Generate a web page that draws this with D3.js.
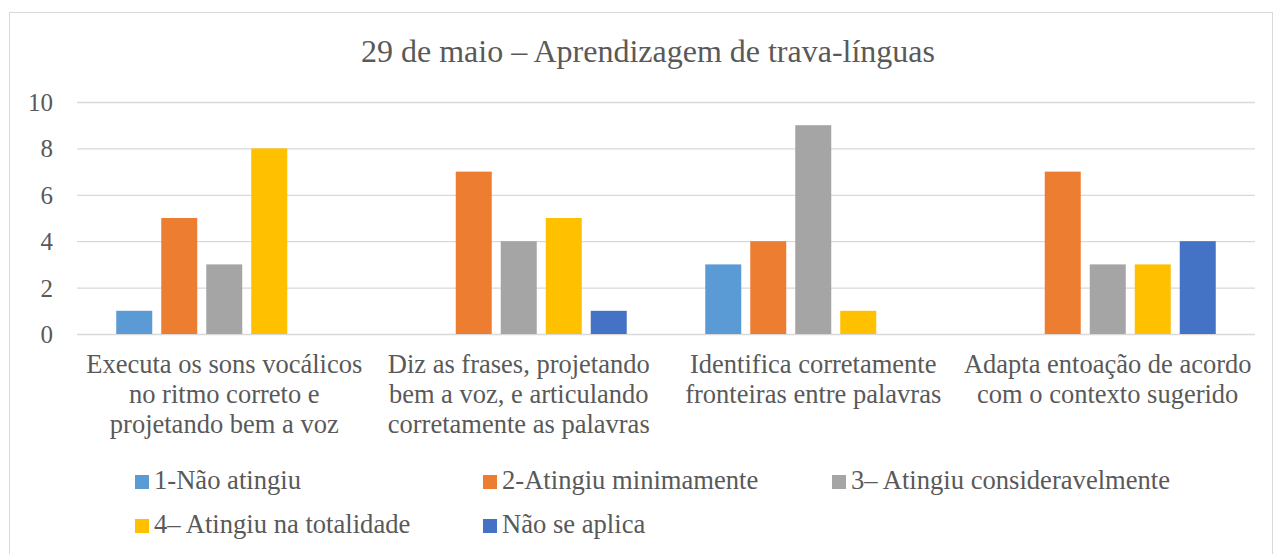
<!DOCTYPE html>
<html>
<head>
<meta charset="utf-8">
<script src="https://cdn.jsdelivr.net/npm/d3@7"></script>
<style>
  body { margin: 0; background: #fff; }
</style>
</head>
<body>
<script>
// data
const title = "29 de maio – Aprendizagem de trava-línguas";
const categories = [
  ["Executa os sons vocálicos", "no ritmo correto e", "projetando bem a voz"],
  ["Diz as frases, projetando", "bem a voz, e articulando", "corretamente as palavras"],
  ["Identifica corretamente", "fronteiras entre palavras"],
  ["Adapta entoação de acordo", "com o contexto sugerido"]
];
const seriesNames = ["1-Não atingiu", "2-Atingiu minimamente", "3– Atingiu consideravelmente", "4– Atingiu na totalidade", "Não se aplica"];
const seriesColors = ["#5B9BD5", "#ED7D31", "#A5A5A5", "#FFC000", "#4472C4"];
const naoAtingiu = [1, 0, 3, 0];
const minimamente = [5, 7, 4, 7];
const consideravelmente = [3, 4, 9, 3];
const totalidade = [8, 5, 1, 3];
const naoSeAplica = [0, 1, 0, 4];
const yTicks = [0, 2, 4, 6, 8, 10];

const seriesValues = [naoAtingiu, minimamente, consideravelmente, totalidade, naoSeAplica];

const W = 1275, H = 554;
let plotLeft = 77, plotRight = 1255, plotTop = 102, plotBottom = 334;
const FONT = "'Liberation Serif'";
const INK = "#595959";

let svg = d3.select("body").append("svg")
  .attr("width", W)
  .attr("height", H);

// chart frame
svg.append("rect")
  .attr("x", 9.5).attr("y", 12.5)
  .attr("width", 1263).attr("height", 560)
  .attr("fill", "#fff")
  .attr("stroke", "#d9d9d9");

svg.append("text")
  .attr("x", 648)
  .attr("y", 62)
  .attr("text-anchor", "middle")
  .style("font-family", FONT)
  .style("font-size", "32px")
  .style("fill", INK)
  .text(title);

let y = d3.scaleLinear().domain([0, 10]).range([plotBottom, plotTop]);

let x0 = d3.scaleBand()
  .domain(d3.range(categories.length))
  .range([plotLeft, plotRight]);

let groupW = 216;
let x1 = d3.scaleBand()
  .domain(d3.range(seriesNames.length))
  .range([x0.bandwidth() / 2 - groupW / 2, x0.bandwidth() / 2 + groupW / 2])
  .paddingInner(0.2);

// gridlines + y labels
let yAxis = d3.axisLeft(y)
  .tickValues(yTicks)
  .tickSize(-(plotRight - plotLeft))
  .tickPadding(24);

let gy = svg.append("g")
  .attr("transform", "translate(" + plotLeft + ",0)")
  .call(yAxis)
  .attr("font-family", null);
gy.select(".domain").remove();
gy.selectAll(".tick line").attr("stroke", "#d9d9d9").attr("stroke-width", 1.3);
gy.selectAll(".tick text")
  .style("font-family", FONT)
  .style("font-size", "25px")
  .style("fill", INK)
  .attr("dy", "0.34em");

// bars
let table = categories.map((c, i) => seriesValues.map((s, j) => ({ cat: i, ser: j, v: s[i] })));

svg.append("g")
  .selectAll("g")
  .data(table)
  .enter().append("g")
  .attr("transform", (d, i) => "translate(" + x0(i) + ",0)")
  .selectAll("rect")
  .data(d => d.filter(e => e.v > 0))
  .enter().append("rect")
  .attr("x", d => x1(d.ser))
  .attr("y", d => y(d.v))
  .attr("width", x1.bandwidth())
  .attr("height", d => y(0) - y(d.v))
  .attr("fill", d => seriesColors[d.ser]);

// category labels
let cat = svg.append("g")
  .selectAll("text")
  .data(categories)
  .enter().append("text")
  .attr("text-anchor", "middle")
  .style("font-family", FONT)
  .style("font-size", "26.5px")
  .style("fill", INK)
  .attr("x", (d, i) => x0(i) + x0.bandwidth() / 2)
  .attr("y", 373);
cat.selectAll("tspan")
  .data(d => d)
  .enter().append("tspan")
  .attr("x", function () { return d3.select(this.parentNode).attr("x"); })
  .attr("dy", (d, i) => i === 0 ? 0 : 30)
  .text(d => d);

// legend
let legendPos = [[135, 482], [483, 482], [832, 482], [135, 526], [483, 526]];
let lg = svg.append("g")
  .selectAll("g")
  .data(seriesNames)
  .enter().append("g")
  .attr("transform", (d, i) => "translate(" + legendPos[i][0] + "," + legendPos[i][1] + ")");
lg.append("rect")
  .attr("x", 0).attr("y", -7)
  .attr("width", 14).attr("height", 14)
  .attr("fill", (d, i) => seriesColors[i]);
lg.append("text")
  .attr("x", 19)
  .attr("y", 7)
  .style("font-family", FONT)
  .style("font-size", "26.6px")
  .style("fill", INK)
  .text(d => d);
</script>
</body>
</html>
